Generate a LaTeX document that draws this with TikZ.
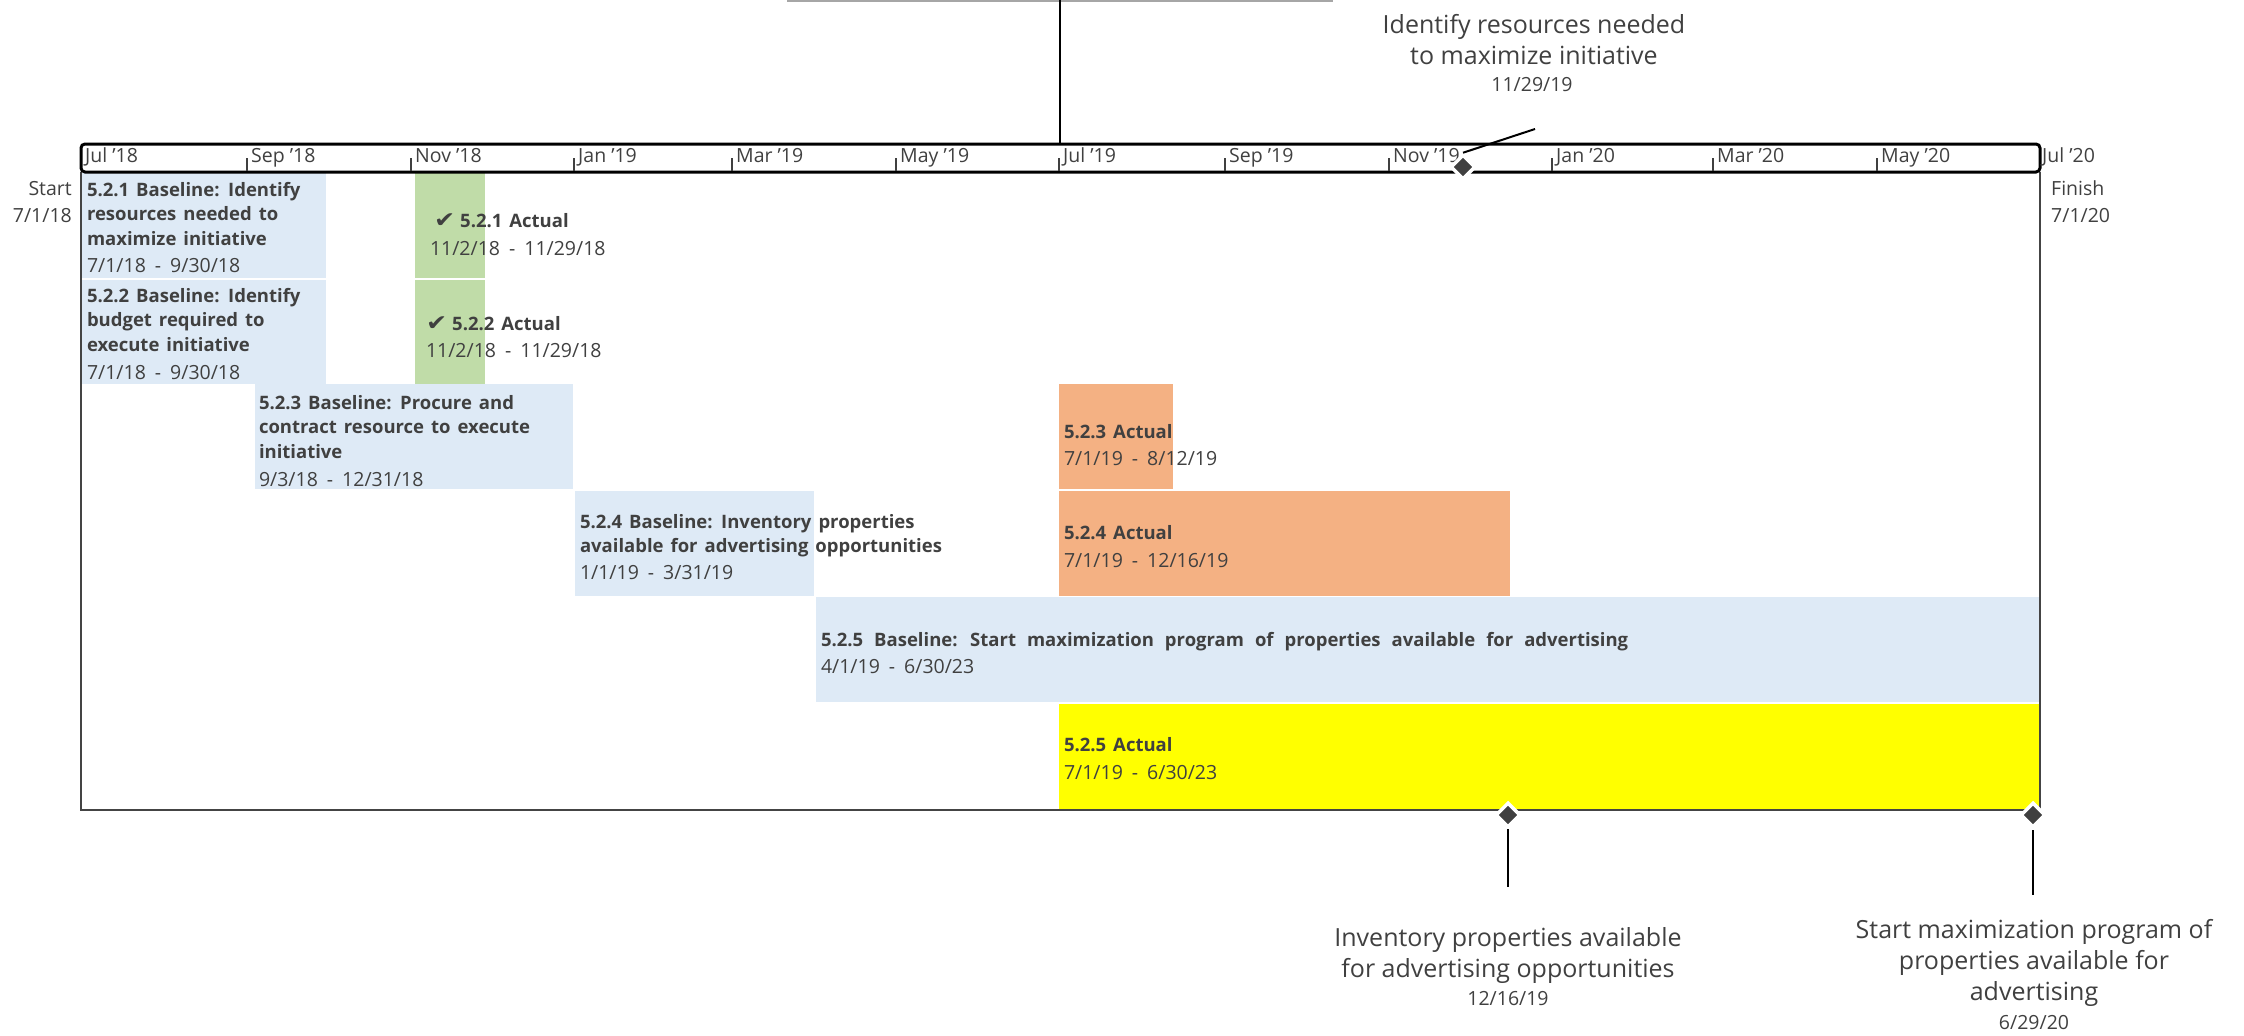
\documentclass[tikz,border=0pt]{standalone}
\usepackage{fontspec}
\usepackage{graphicx}
\setmainfont{Open Sans}
\newfontfamily\symfont{DejaVu Sans}
\usetikzlibrary{shapes.geometric}
\definecolor{tg}{HTML}{404040}
\definecolor{blueL}{HTML}{DEEAF6}
\definecolor{greenA}{HTML}{C0DCA8}
\definecolor{orangeA}{HTML}{F4B183}
\definecolor{yellowA}{HTML}{FFFF00}
\definecolor{frameC}{HTML}{444444}
\newcommand\chk{{\symfont\fontsize{23}{24}\selectfont\scalebox{1.1}[0.95]{\char"2714}}}
\newcommand\ttlfont{\fontsize{18.5}{24.5}\selectfont\bfseries\spaceskip 7pt\relax}
\newcommand\ttlwide{\fontsize{18.5}{24.5}\selectfont\bfseries\spaceskip 11pt\relax}
\newcommand\dtfont{\fontsize{19.5}{22}\selectfont\spaceskip 9pt\relax}
\tikzset{
  ttl/.style={font=\ttlfont, text=tg, align=left, anchor=north west, inner sep=0pt, outer sep=0pt},
  dt/.style={font=\dtfont, text=tg, anchor=base west, inner sep=0pt, outer sep=0pt},
  tick/.style={draw=tg, line width=1.2pt},
  ticklbl/.style={font=\fontsize{19.5}{22}\selectfont, text=tg, anchor=base west, inner sep=0pt},
  side/.style={font=\fontsize{19.5}{22}\selectfont, text=tg, inner sep=0pt},
  lbl/.style={font=\fontsize{25}{31}\selectfont, text=tg, align=center, anchor=north, inner sep=0pt},
  lbldate/.style={font=\fontsize{19.5}{22}\selectfont, text=tg, anchor=base, inner sep=0pt},
  ms/.style={diamond, fill=tg, draw=white, line width=3.5pt, minimum width=25pt, minimum height=25pt, inner sep=0pt},
  lead/.style={draw=black, line width=2pt},
}
\begin{document}
\begin{tikzpicture}[x=1pt,y=-1pt]
\useasboundingbox (0,0) rectangle (2244,1036);
% top partial callout lines
\draw[draw=gray!70, line width=2pt] (787,1) -- (1333,1);
\coordinate (topA) at (1060,0);
\coordinate (topB) at (1060,144);
\draw[lead] (topA) -- (topB);

% bars
\fill[blueL] (81,173) rectangle (326,278);
\fill[blueL] (81,280) rectangle (326,384);
\fill[greenA] (415,173) rectangle (485,278);
\fill[greenA] (415,280) rectangle (485,384);
\fill[blueL] (255,384) rectangle (573,489);
\fill[blueL] (575,491) rectangle (814,596);
\fill[blueL] (816,597) rectangle (2040,702);
\fill[orangeA] (1059,384) rectangle (1173,489);
\fill[orangeA] (1059,491) rectangle (1510,596);
\fill[yellowA] (1059,704) rectangle (2040,810);

% frame
\draw[draw=frameC, line width=2.5pt] (81,172) -- (81,810) -- (2040,810) -- (2040,172);

% timescale bar
\draw[draw=black, line width=3pt, rounded corners=4pt, fill=white] (81,144) rectangle (2040,172);
\foreach \x in {247,411,574,732,896,1059,1225,1389,1552,1713,1877} {
  \draw[tick] (\x,158) -- (\x,171);
}
\node[ticklbl] (m1) at (85,162) {Jul '18};
\node[ticklbl] (m2) at (251,162) {Sep '18};
\node[ticklbl] (m3) at (415,162) {Nov '18};
\node[ticklbl] (m4) at (578,162) {Jan '19};
\node[ticklbl] (m5) at (736,162) {Mar '19};
\node[ticklbl] (m6) at (900,162) {May '19};
\node[ticklbl] (m7) at (1063,162) {Jul '19};
\node[ticklbl] (m8) at (1229,162) {Sep '19};
\node[ticklbl] (m9) at (1393,162) {Nov '19};
\node[ticklbl] (m10) at (1556,162) {Jan '20};
\node[ticklbl] (m11) at (1717,162) {Mar '20};
\node[ticklbl] (m12) at (1881,162) {May '20};
\node[ticklbl] (m13) at (2042,162) {Jul '20};

% start / finish
\node[side, anchor=base east] (st1) at (72,195) {Start};
\node[side, anchor=base east] (st2) at (72,222) {7/1/18};
\node[side, anchor=base west] (fi1) at (2051,195) {Finish};
\node[side, anchor=base west] (fi2) at (2051,222) {7/1/20};

% bar texts
\node[ttl] (t1) at (87,178.85) {\strut 5.2.1 Baseline: Identify\\resources needed to\\maximize initiative};
\node[dt] (d1) at (87,272) {7/1/18 - 9/30/18};
\node[ttl] (t2) at (87,284.85) {\strut 5.2.2 Baseline: Identify\\budget required to\\execute initiative};
\node[dt] (d2) at (87,379) {7/1/18 - 9/30/18};

\node[ttl] (t3) at (434,209.85) {\strut\chk\hspace{5pt}5.2.1 Actual};
\node[dt] (d3) at (430,255) {11/2/18 - 11/29/18};
\node[ttl] (t4) at (426,312.85) {\strut\chk\hspace{5pt}5.2.2 Actual};
\node[dt] (d4) at (426,357) {11/2/18 - 11/29/18};

\node[ttl] (t5) at (259,391.85) {\strut 5.2.3 Baseline: Procure and\\contract resource to execute\\initiative};
\node[dt] (d5) at (259,486) {9/3/18 - 12/31/18};

\node[ttl] (t6) at (580,510.85) {\strut 5.2.4 Baseline: Inventory properties\\available for advertising opportunities};
\node[dt] (d6) at (580,579) {1/1/19 - 3/31/19};

\node[ttl, font=\ttlwide] (t7) at (821,628.85) {\strut 5.2.5 Baseline: Start maximization program of properties available for advertising};
\node[dt] (d7) at (821,673) {4/1/19 - 6/30/23};

\node[ttl] (t8) at (1064,420.85) {\strut 5.2.3 Actual};
\node[dt] (d8) at (1064,465) {7/1/19 - 8/12/19};
\node[ttl] (t9) at (1064,521.85) {\strut 5.2.4 Actual};
\node[dt] (d9) at (1064,567) {7/1/19 - 12/16/19};
\node[ttl] (t10) at (1064,733.85) {\strut 5.2.5 Actual};
\node[dt] (d10) at (1064,779) {7/1/19 - 6/30/23};

% milestones
\node[ms] (ms1) at (1463,167) {};
\coordinate (ms1end) at (1535,129);
\draw[lead] (ms1.north) -- (ms1end);
\node[lbl] (lb1) at (1534,11.3) {\strut Identify resources needed\\to maximize initiative};
\node[lbldate] (lb1d) at (1532,91) {11/29/19};

\node[ms] (ms2) at (1508,815) {};
\coordinate (ms2end) at (1508,887);
\draw[lead] (ms2.south) -- (ms2end);
\node[lbl] (lb2) at (1508,924.3) {\strut Inventory properties available\\for advertising opportunities};
\node[lbldate] (lb2d) at (1508,1005) {12/16/19};

\node[ms] (ms3) at (2033,815) {};
\coordinate (ms3top) at (2033,830);
\coordinate (ms3end) at (2033,895);
\draw[lead] (ms3top) -- (ms3end);
\node[lbl] (lb3) at (2034,916.3) {\strut Start maximization program of\\properties available for\\advertising};
\node[lbldate] (lb3d) at (2034,1029) {6/29/20};
\end{tikzpicture}
\end{document}
